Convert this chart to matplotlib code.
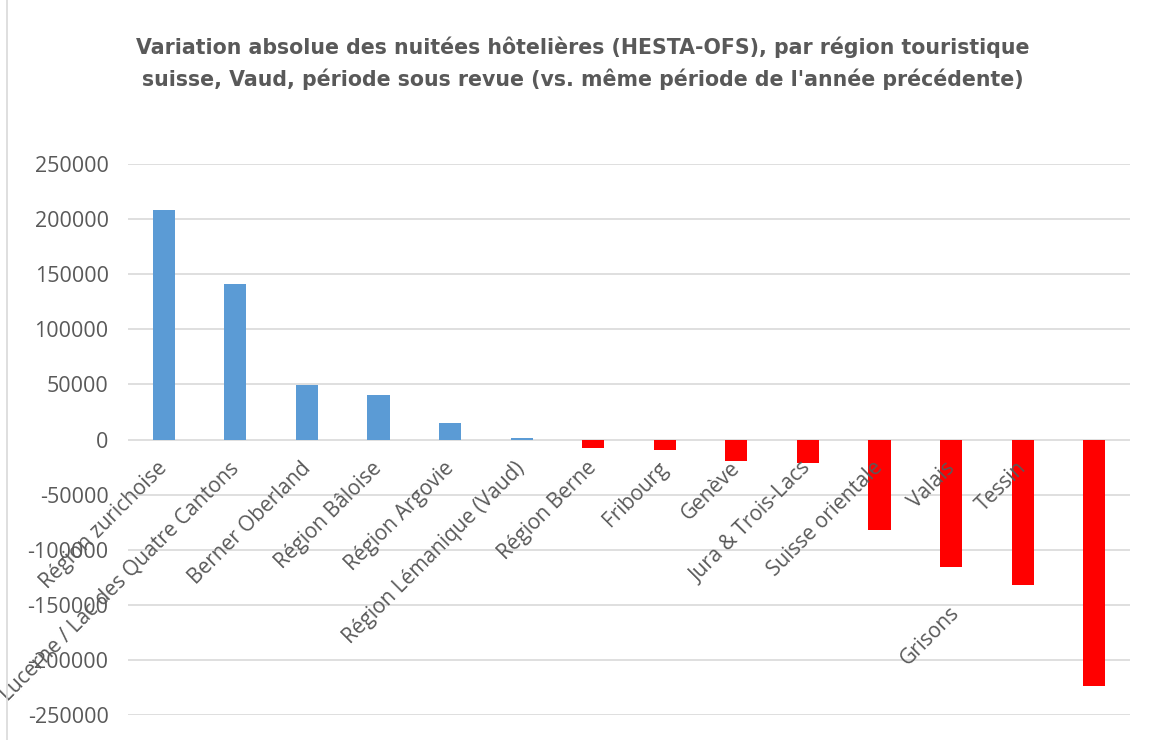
"""
Variation absolue des nuitées hôtelières par région touristique (bar chart)
"""
import numpy as np
from matplotlib import pyplot as plt
from matplotlib.lines import Line2D

regions = ['Région zurichoise', 'Lucerne / Lac des Quatre Cantons', 'Berner Oberland',
           'Région Bâloise', 'Région Argovie', 'Région Lémanique (Vaud)', 'Région Berne',
           'Fribourg', 'Genève', 'Jura & Trois-Lacs', 'Suisse orientale', 'Valais',
           'Tessin', 'Grisons']
variation = [208000, 141000, 49500, 40800, 15000, 1500, -7800, -9800,
             -19500, -21000, -82500, -115500, -132000, -223500]
yticks = [250000, 200000, 150000, 100000, 50000, 0, -50000, -100000,
          -150000, -200000, -250000]

title = ("Variation absolue des nuitées hôtelières (HESTA-OFS), par région touristique\n"
         "suisse, Vaud, période sous revue (vs. même période de l'année précédente)")

BLUE = '#5b9bd5'
RED = '#ff0000'
GREY = '#595959'

if __name__ == '__main__':
    fig = plt.figure(figsize=(11.54, 7.40), dpi=100)
    ax = fig.add_axes([128 / 1154, 1 - 715 / 740, (1130 - 128) / 1154, (715 - 164) / 740])

    x = np.arange(len(regions))
    colors = [BLUE if v >= 0 else RED for v in variation]
    ax.bar(x, variation, width=0.31, color=colors, zorder=3)

    ax.set_xlim(-0.5, len(regions) - 0.5)
    ax.set_ylim(-250000, 250000)
    ax.set_yticks(yticks)
    ax.set_yticklabels([str(t) for t in yticks], fontsize=15.5, color=GREY, family='Open Sans')
    ax.tick_params(axis='y', length=0, pad=14)
    ax.set_xticks([])
    ax.grid(axis='y', color='#d9d9d9', linewidth=1.2, zorder=0)
    for s in ax.spines.values():
        s.set_visible(False)

    # category labels sit under the zero line, Excel style; Grisons got pushed down
    for i, name in enumerate(regions):
        dx, dy = (-5, -13)
        if name == 'Grisons':
            dx, dy = (-105, -117)
        ax.annotate(name, xy=(i, 0), xytext=(dx, dy), textcoords='offset points',
                    rotation=45, rotation_mode='anchor', ha='right', va='top',
                    fontsize=15, color=GREY, family='Open Sans', zorder=4,
                    annotation_clip=False)

    fig.text(0.505, 1 - 63 / 740, title, ha='center', va='center', fontsize=14.8,
             fontweight='bold', color=GREY, family='DejaVu Sans', linespacing=1.6)

    # chart border on the left
    fig.add_artist(Line2D([7 / 1154, 7 / 1154], [0, 1], color='#d9d9d9', linewidth=1.2))

    plt.savefig('out.png', dpi=100)
